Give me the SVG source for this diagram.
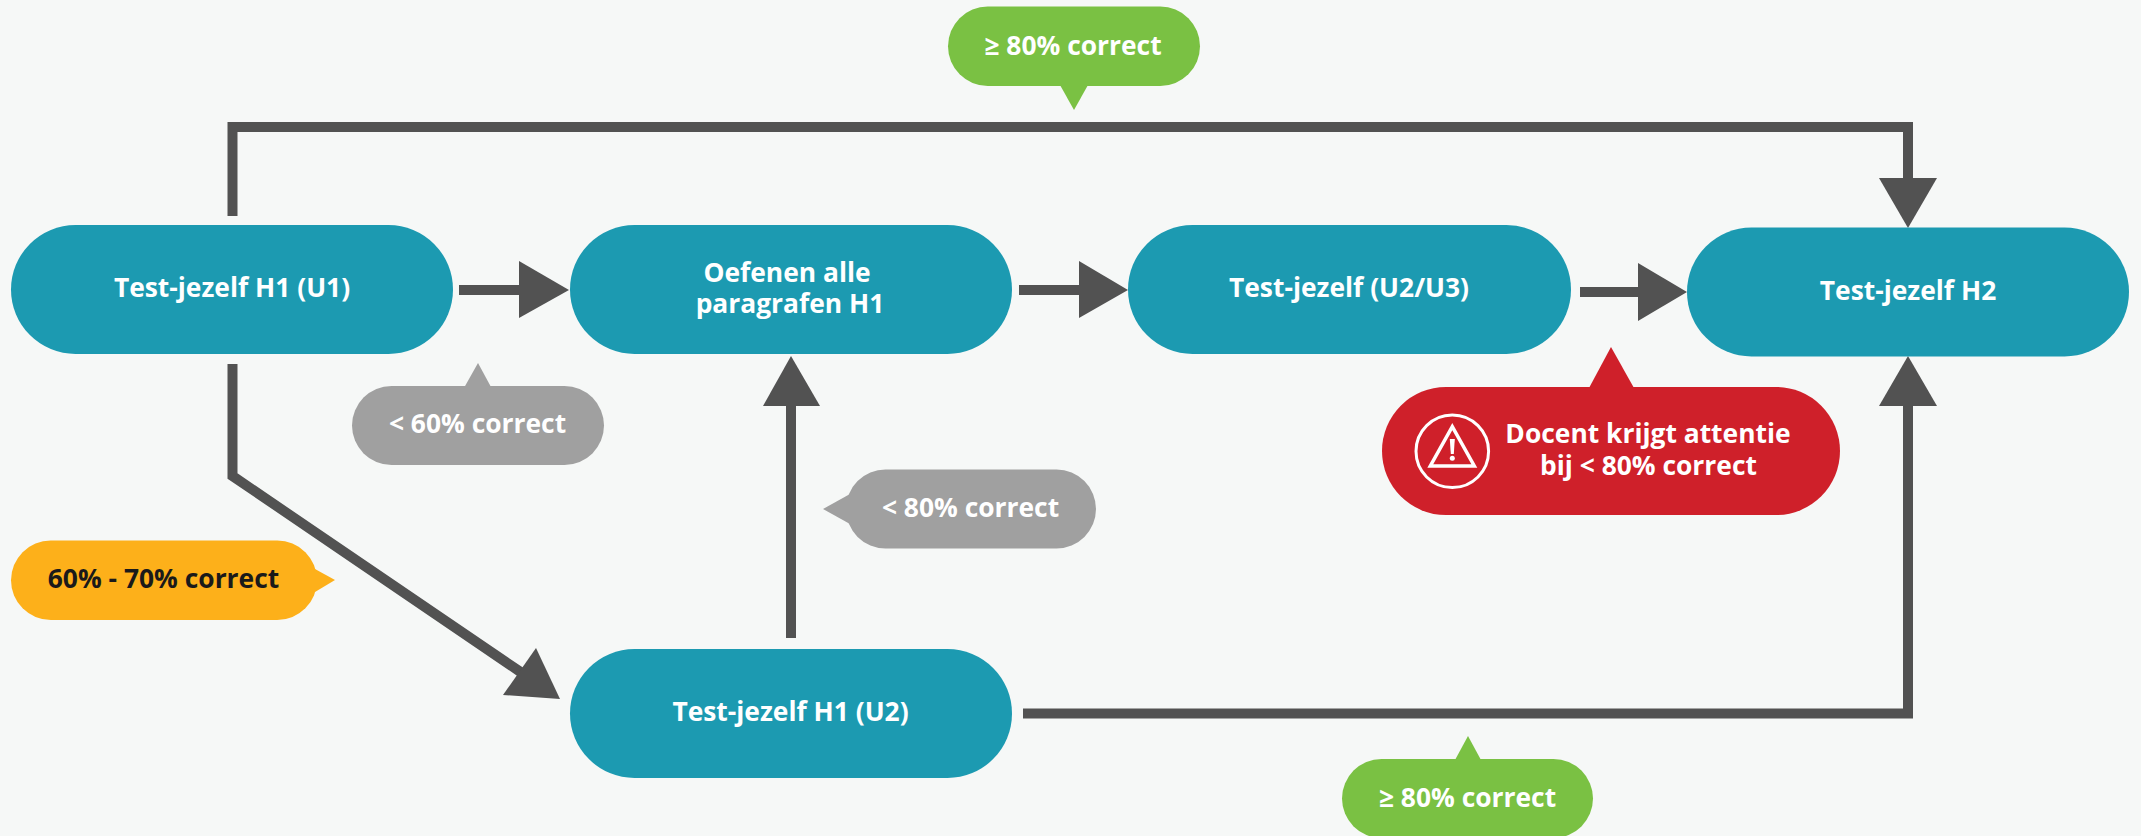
<svg xmlns="http://www.w3.org/2000/svg" width="2141" height="836" viewBox="0 0 2141 836">
<style>
.n{fill:#1c9ab1}
.t{font-family:"Open Sans","Liberation Sans",sans-serif;font-weight:700;font-size:26.400px;fill:#fff;text-anchor:middle}
.k{fill:#1a1a1a}
.l{fill:none;stroke:#525252;stroke-width:10;stroke-linejoin:miter}
.h{fill:#525252}
.g{fill:#7ac143}.y{fill:#a0a0a0}.o{fill:#fdb01a}.r{fill:#cf202a}
</style>
<rect width="2141" height="836" fill="#f6f8f7"/>
<g id="connectors">
<path class="l" d="M232.500 216V127H1908V180"/><polygon class="h" points="1879,178 1937,178 1908,228"/>
<path class="l" d="M459 290H521"/><polygon class="h" points="519,261 519,318 569,290"/>
<path class="l" d="M1019 290H1081"/><polygon class="h" points="1079,261 1079,318 1128,290"/>
<path class="l" d="M1580 292H1640"/><polygon class="h" points="1638,263 1638,321 1687,292"/>
<path class="l" d="M232.500 364V476L522 673"/><polygon class="h" points="536,648 503,695 560,699"/>
<path class="l" d="M791 638V404"/><polygon class="h" points="763,406 820,406 791,356"/>
<path class="l" d="M1023 713.500H1908V404"/><polygon class="h" points="1879,406 1937,406 1908,356"/>
</g>
<g id="node-u1"><rect class="n" x="11" y="225" width="442" height="129" rx="64.500"/><text class="t" x="232" y="297">Test-jezelf H1 (U1)</text></g>
<g id="node-oefenen"><rect class="n" x="570" y="225" width="442" height="129" rx="64.500"/><text class="t" x="787" y="282">Oefenen alle</text><text class="t" x="790" y="313">paragrafen H1</text></g>
<g id="node-u2u3"><rect class="n" x="1128" y="225" width="443" height="129" rx="64.500"/><text class="t" x="1349" y="297">Test-jezelf (U2/U3)</text></g>
<g id="node-h2"><rect class="n" x="1687" y="227.500" width="442" height="129" rx="64.500"/><text class="t" x="1908" y="300">Test-jezelf H2</text></g>
<g id="node-u2"><rect class="n" x="570" y="649" width="442" height="129" rx="64.500"/><text class="t" x="790.500" y="721">Test-jezelf H1 (U2)</text></g>
<g id="label-top"><rect class="g" x="948" y="6.500" width="252" height="79.500" rx="39.750"/><polygon class="g" points="1060,85 1088,85 1074,110"/><text class="t" x="1073" y="55">≥ 80% correct</text></g>
<g id="label-60"><rect class="y" x="352" y="386" width="252" height="79" rx="39.500"/><polygon class="y" points="464.500,387 491,387 478,363"/><text class="t" x="477.500" y="432.500">&lt; 60% correct</text></g>
<g id="label-80"><rect class="y" x="846" y="469.500" width="250" height="79" rx="39.500"/><polygon class="y" points="850,494 850,524 823,509"/><text class="t" x="970.500" y="516.500">&lt; 80% correct</text></g>
<g id="label-60-70"><rect class="o" x="11" y="540.500" width="306" height="79.500" rx="39.750"/><polygon class="o" points="315,569 315,592 335,580"/><text class="t k" x="163.500" y="587.500">60% - 70% correct</text></g>
<g id="label-docent"><rect class="r" x="1382" y="387" width="458" height="128" rx="64"/><polygon class="r" points="1589,388 1634,388 1611,347"/><circle cx="1452.300" cy="451.300" r="36.300" fill="none" stroke="#fff" stroke-width="3"/><polygon points="1452.300,426.600 1430.300,466 1474.300,466" fill="none" stroke="#fff" stroke-width="3.500"/><polygon points="1449.800,439 1454.800,439 1453.800,454 1450.800,454" fill="#fff"/><circle cx="1452.300" cy="458.200" r="2.500" fill="#fff"/><text class="t" x="1648" y="442.500">Docent krijgt attentie</text><text class="t" x="1648.500" y="474.500">bij &lt; 80% correct</text></g>
<g id="label-bottom"><rect class="g" x="1342" y="759" width="251" height="79" rx="39.500"/><polygon class="g" points="1455,760 1481,760 1468,736"/><text class="t" x="1467.500" y="806.500">≥ 80% correct</text></g>
</svg>
